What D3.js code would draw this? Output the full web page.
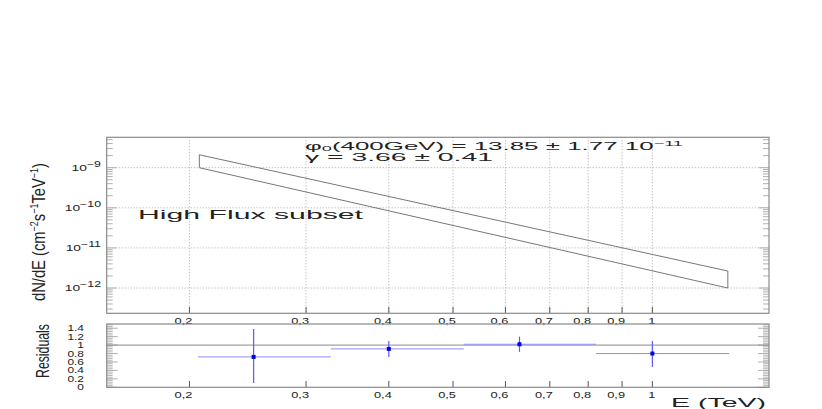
<!DOCTYPE html>
<html><head><meta charset="utf-8">
<script src="https://cdn.jsdelivr.net/npm/d3@7"></script>
<style>
body{margin:0;background:#fff;}
text{font-family:"Liberation Sans",Arial,sans-serif;fill:#222;}
</style></head>
<body><svg id="c" width="822" height="409"></svg>
<script>
// ---- data ----
const xTicks = [0.2,0.3,0.4,0.5,0.6,0.7,0.8,0.9,1];
const xTickLabels = ["0,2","0,3","0,4","0,5","0,6","0,7","0,8","0,9","1"];
const yDecades = [1e-9,1e-10,1e-11,1e-12];
const yDecadeExp = ["\u22129","\u221210","\u221211","\u221212"];
// butterfly band (E in TeV, flux)
const bandE = [0.207, 1.30];
const bandUpper = [2.1e-9, 2.65e-12];
const bandLower = [1.0e-9, 1.0e-12];
// residuals
const resE = [0.25, 0.40, 0.63, 1.0];
const resLo = [0.206, 0.327, 0.519, 0.822];
const resHi = [0.327, 0.519, 0.822, 1.306];
const resVal = [0.72, 0.91, 1.02, 0.80];
const resErrLo = [0.10, 0.72, 0.84, 0.48];
const resErrHi = [1.38, 1.10, 1.20, 1.10];
const resTicks = [0,0.2,0.4,0.6,0.8,1,1.2,1.4];
const resTickLabels = ["0","0.2","0.4","0.6","0.8","1","1.2","1.4"];

const svg = d3.select("#c");
const L = 106.7, R = 769;
const x = d3.scaleLog().domain([0.15,1.5]).range([L,R]);
const y = d3.scaleLog().domain([2.34e-13,5.73e-9]).range([313.3,137.3]);
const yr = d3.scaleLinear().domain([0,1.5]).range([387.3,324]);
const frame = "#8a8a8a", grid = "#a8a8a8";

function stretch(sel,k){ sel.each(function(){ const w=this.getComputedTextLength(); d3.select(this).attr("textLength",w*k).attr("lengthAdjust","spacingAndGlyphs"); }); }
function fitW(sel,w){ sel.attr("textLength",w).attr("lengthAdjust","spacingAndGlyphs"); }

// ---- top panel ----
const gTop = svg.append("g");
gTop.selectAll(".vg").data(xTicks).join("line")
  .attr("x1",d=>x(d)).attr("x2",d=>x(d)).attr("y1",137.3).attr("y2",313.3)
  .attr("stroke",grid).attr("stroke-width",1).attr("stroke-dasharray","1,2");
gTop.selectAll(".hg").data(yDecades).join("line")
  .attr("x1",L).attr("x2",R).attr("y1",d=>y(d)).attr("y2",d=>y(d))
  .attr("stroke",grid).attr("stroke-width",1).attr("stroke-dasharray","1,2");
const yMinor = [];
for (let e=-13;e<=-9;e++) for (let m=1;m<10;m++){const v=m*Math.pow(10,e); if(v>=2.34e-13&&v<=5.73e-9) yMinor.push({v,major:m===1});}
[L,R].forEach((xx,i)=>{
  const s = i===0?1:-1;
  gTop.selectAll(null).data(yMinor).join("line")
   .attr("x1",xx).attr("x2",d=>xx+s*(d.major?10:6)).attr("y1",d=>y(d.v)).attr("y2",d=>y(d.v))
   .attr("stroke","#b0b0b0").attr("stroke-width",1);
});
gTop.selectAll(null).data(xTicks).join("line")
  .attr("x1",d=>x(d)).attr("x2",d=>x(d)).attr("y1",313.3).attr("y2",307)
  .attr("stroke","#555");
const bandPts = [[bandE[0],bandUpper[0]],[bandE[1],bandUpper[1]],[bandE[1],bandLower[1]],[bandE[0],bandLower[0]]];
gTop.append("path").attr("d", d3.line().x(d=>x(d[0])).y(d=>y(d[1]))(bandPts)+"Z")
  .attr("fill","none").attr("stroke","#777").attr("stroke-width",1);
gTop.append("rect").attr("x",L).attr("y",137.3).attr("width",R-L).attr("height",313.3-137.3)
  .attr("fill","none").attr("stroke",frame).attr("stroke-width",1.2);
yDecades.forEach((d,i)=>{
  const t = gTop.append("text").attr("x",101).attr("y",y(d)+3).attr("text-anchor","end")
    .attr("font-size",9.5);
  t.append("tspan").text("10");
  t.append("tspan").attr("dy",-4).attr("font-size",8.5).text(yDecadeExp[i]);
  stretch(t,1.45);
});
svg.selectAll(".xl1").data(xTicks).join("text")
  .attr("x",d=>x(d)+3).attr("y",323.5).attr("text-anchor","end")
  .attr("font-size",9.5).text((d,i)=>xTickLabels[i]).call(stretch,1.35);
// annotations
const a1 = svg.append("text").attr("x",305).attr("y",149.5).attr("font-size",10)
  .html('\u03C6<tspan font-size="7" dy="1.5">0</tspan><tspan dy="-1.5">(400GeV) = 13.85 \u00B1 1.77  10</tspan><tspan font-size="7" dy="-4">\u221211</tspan>');
fitW(a1,378);
const a2 = svg.append("text").attr("x",305).attr("y",160.5).attr("font-size",10)
  .text("\u03B3  = 3.66 \u00B1 0.41");
fitW(a2,188);
const a3 = svg.append("text").attr("x",138).attr("y",219).attr("font-size",12)
  .attr("fill","#333").text("High Flux subset");
fitW(a3,225);
// y title
const yt = svg.append("text").attr("transform","translate(45,232) rotate(-90)")
  .attr("text-anchor","middle").attr("font-size",18)
  .html('dN/dE (cm<tspan font-size="11" dy="-7">\u22122</tspan><tspan dy="7">s</tspan><tspan font-size="11" dy="-7">\u22121</tspan><tspan dy="7">TeV</tspan><tspan font-size="11" dy="-7">\u22121</tspan><tspan dy="7">)</tspan>');
fitW(yt,138);

// ---- residual panel ----
const gBot = svg.append("g");
const rMinor = d3.range(0,1.5001,0.04).filter(v=>v<=1.5);
[L,R].forEach((xx,i)=>{
  const s = i===0?1:-1;
  gBot.selectAll(null).data(rMinor).join("line")
   .attr("x1",xx).attr("x2",xx+s*6).attr("y1",d=>yr(d)).attr("y2",d=>yr(d))
   .attr("stroke","#b8b8b8");
  gBot.selectAll(null).data(resTicks).join("line")
   .attr("x1",xx).attr("x2",xx+s*11).attr("y1",d=>yr(d)).attr("y2",d=>yr(d))
   .attr("stroke","#b0b0b0");
});
gBot.selectAll(null).data(xTicks).join("line")
  .attr("x1",d=>x(d)).attr("x2",d=>x(d)).attr("y1",387.3).attr("y2",381)
  .attr("stroke","#555");
gBot.append("line").attr("x1",L).attr("x2",R).attr("y1",yr(1)).attr("y2",yr(1))
  .attr("stroke","#8a8a8a").attr("stroke-width",1);
gBot.selectAll(".hb").data(resE).join("line")
  .attr("x1",(d,i)=>x(resLo[i])).attr("x2",(d,i)=>x(resHi[i]))
  .attr("y1",(d,i)=>yr(resVal[i])).attr("y2",(d,i)=>yr(resVal[i]))
  .attr("stroke","#8c8cff").attr("stroke-width",1);
gBot.selectAll(".vb").data(resE).join("line")
  .attr("x1",d=>x(d)).attr("x2",d=>x(d))
  .attr("y1",(d,i)=>yr(resErrLo[i])).attr("y2",(d,i)=>yr(resErrHi[i]))
  .attr("stroke","#5a5aff").attr("stroke-width",1.2);
gBot.selectAll(".pt").data(resE).join("rect")
  .attr("x",d=>x(d)-2).attr("y",(d,i)=>yr(resVal[i])-2).attr("width",4).attr("height",4)
  .attr("fill","#0000e0");
gBot.append("rect").attr("x",L).attr("y",324).attr("width",R-L).attr("height",387.3-324)
  .attr("fill","none").attr("stroke",frame).attr("stroke-width",1.2);
svg.selectAll(".yl2").data(resTicks).join("text")
  .attr("x",84).attr("y",d=>yr(d)+3).attr("text-anchor","end")
  .attr("font-size",8.5).text((d,i)=>resTickLabels[i]).call(stretch,1.4);
svg.selectAll(".xl2").data(xTicks).join("text")
  .attr("x",d=>x(d)+3).attr("y",397.5).attr("text-anchor","end")
  .attr("font-size",9.5).text((d,i)=>xTickLabels[i]).call(stretch,1.35);
const rt = svg.append("text").attr("transform","translate(49,351) rotate(-90)")
  .attr("text-anchor","middle").attr("font-size",18).text("Residuals");
fitW(rt,54);
const et = svg.append("text").attr("x",766).attr("y",407).attr("text-anchor","end")
  .attr("font-size",13).text("E (TeV)");
fitW(et,95);
</script></body></html>
